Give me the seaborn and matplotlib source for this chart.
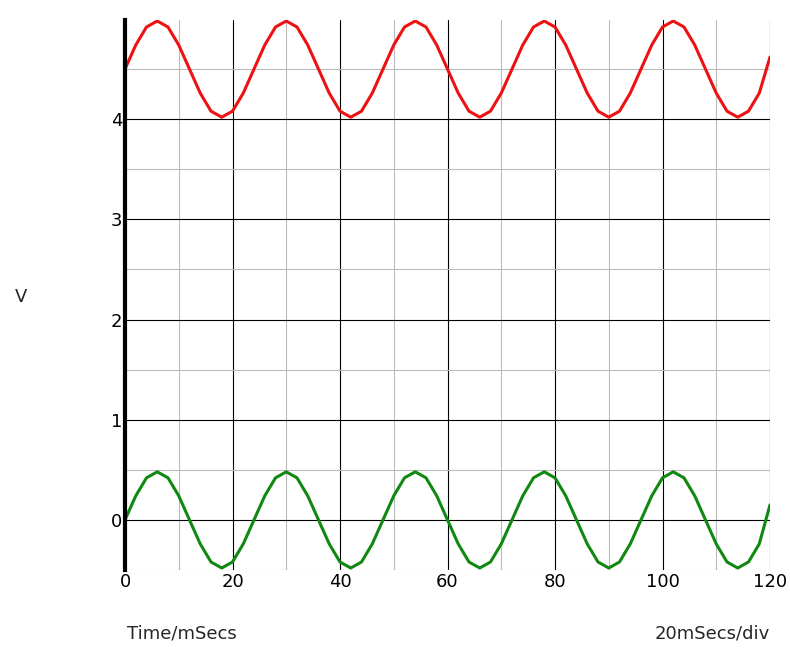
import matplotlib
matplotlib.use("Agg")
import matplotlib.pyplot as plt
import seaborn as sns
import pandas as pd
from matplotlib.ticker import MultipleLocator, FixedLocator

# === DATA (2 ms steps) ===
time_ms = list(range(0, 122, 2))
v_red = [4.50, 4.74, 4.92, 4.98, 4.92, 4.74, 4.50, 4.26, 4.08, 4.02, 4.08, 4.26,
         4.50, 4.74, 4.92, 4.98, 4.92, 4.74, 4.50, 4.26, 4.08, 4.02, 4.08, 4.26,
         4.50, 4.74, 4.92, 4.98, 4.92, 4.74, 4.50, 4.26, 4.08, 4.02, 4.08, 4.26,
         4.50, 4.74, 4.92, 4.98, 4.92, 4.74, 4.50, 4.26, 4.08, 4.02, 4.08, 4.26,
         4.50, 4.74, 4.92, 4.98, 4.92, 4.74, 4.50, 4.26, 4.08, 4.02, 4.08, 4.26,
         4.62]
v_green = [0.00, 0.24, 0.42, 0.48, 0.42, 0.24, 0.00, -0.24, -0.42, -0.48, -0.42, -0.24,
           0.00, 0.24, 0.42, 0.48, 0.42, 0.24, 0.00, -0.24, -0.42, -0.48, -0.42, -0.24,
           0.00, 0.24, 0.42, 0.48, 0.42, 0.24, 0.00, -0.24, -0.42, -0.48, -0.42, -0.24,
           0.00, 0.24, 0.42, 0.48, 0.42, 0.24, 0.00, -0.24, -0.42, -0.48, -0.42, -0.24,
           0.00, 0.24, 0.42, 0.48, 0.42, 0.24, 0.00, -0.24, -0.42, -0.48, -0.42, -0.24,
           0.15]
y_ticks = [0, 1, 2, 3, 4]

df = pd.DataFrame({"t": time_ms, "red": v_red, "green": v_green})

sns.set_style("white")
fig = plt.figure(figsize=(7.9, 6.55), dpi=100)
ax = fig.add_axes([125 / 790, 85 / 655, 645 / 790, 550 / 655])

sns.lineplot(data=df, x="t", y="red", color="#ee1111", lw=2.2, ax=ax)
sns.lineplot(data=df, x="t", y="green", color="#118811", lw=2.2, ax=ax)

ax.set_xlim(0, 120)
ax.set_ylim(-0.5, 4.99)
ax.xaxis.set_major_locator(MultipleLocator(20))
ax.xaxis.set_minor_locator(MultipleLocator(10))
ax.yaxis.set_major_locator(FixedLocator(y_ticks))
ax.yaxis.set_minor_locator(MultipleLocator(0.5))
ax.grid(which="major", color="black", lw=0.8)
ax.grid(which="minor", color="#bbbbbb", lw=0.8)
ax.set_axisbelow(True)
ax.tick_params(which="both", length=0, labelsize=13, pad=2, labelcolor="black")
ax.set_xlabel("")
ax.set_ylabel("")
for s in ["top", "right", "bottom"]:
    ax.spines[s].set_visible(False)
ax.spines["left"].set_linewidth(3)
ax.spines["left"].set_color("black")

fig.text(15 / 790, 1 - 297 / 655, "V", fontsize=13, va="center")
fig.text(127 / 790, 1 - 634 / 655, "Time/mSecs", fontsize=13, va="center")
fig.text(770 / 790, 1 - 634 / 655, "20mSecs/div", fontsize=13, va="center", ha="right")

fig.savefig("out.png", dpi=100)
